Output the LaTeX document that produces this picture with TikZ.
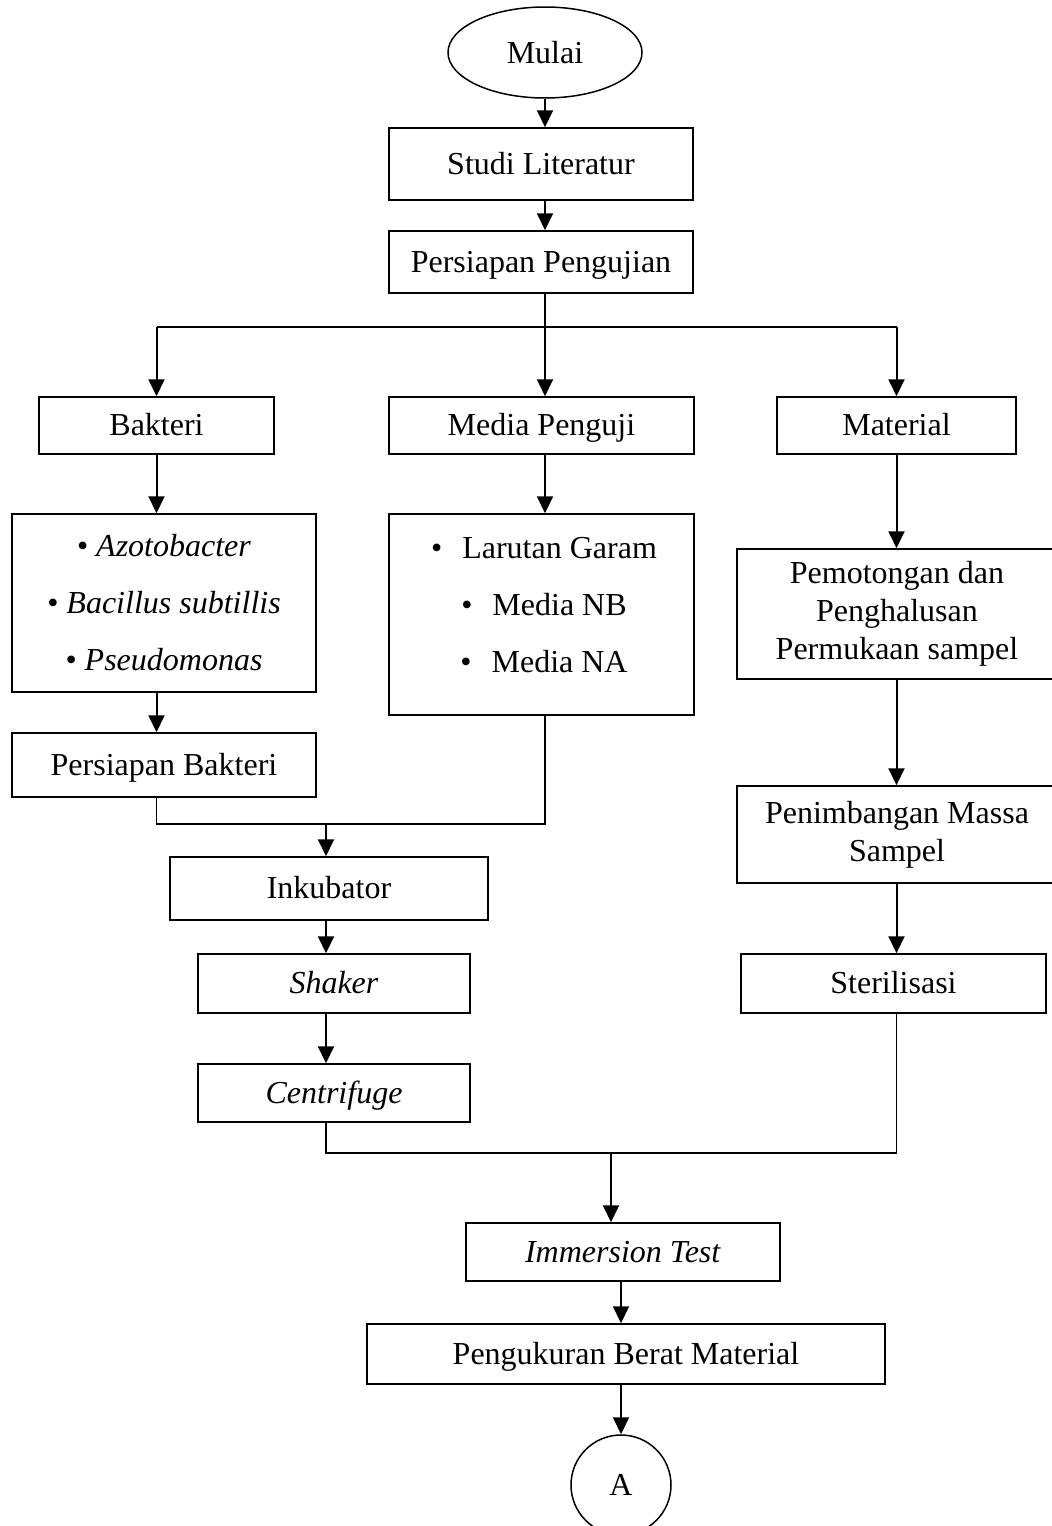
\documentclass[tikz,border=0pt]{standalone}
\usepackage{fontspec}
\setmainfont{Liberation Serif}
\usetikzlibrary{arrows.meta,shapes.geometric}
\begin{document}
\begin{tikzpicture}[x=1pt,y=-1pt,
  box/.style={draw, line width=1.5pt, rectangle, inner sep=0pt, align=center,
    font=\fontsize{32}{38}\selectfont},
  onebox/.style={box, text height=26pt, text depth=6pt},
  listbox/.style={box, font=\fontsize{32}{57}\selectfont},
  ln/.style={line width=1.6pt},
  arr/.style={line width=2pt, -{Triangle[length=17pt,width=16pt]}}]
\useasboundingbox (0,0) rectangle (1052,1526);
\clip (0,0) rectangle (1052,1526);

\node[draw, ellipse, line width=1.5pt, inner sep=0pt, minimum width=194pt, minimum height=91pt,
  font=\fontsize{32}{38}\selectfont] (mulai) at (545,52.5) {Mulai};
\node[onebox, minimum width=304pt, minimum height=72pt] (studi) at (541,164) {Studi Literatur};
\node[onebox, minimum width=304pt, minimum height=62pt] (persiapan) at (541,262) {Persiapan Pengujian};

\node[onebox, minimum width=235pt, minimum height=57pt] (bakteri) at (156.5,425.5) {Bakteri};
\node[onebox, minimum width=305pt, minimum height=57pt] (media) at (541.5,425.5) {Media Penguji};
\node[onebox, minimum width=239pt, minimum height=57pt] (material) at (896.5,425.5) {Material};

\node[listbox, minimum width=304pt, minimum height=178pt] (blist) at (164,603)
  {\textbullet\ \textit{Azotobacter}\\ \textbullet\ \textit{Bacillus subtillis}\\ \textbullet\ \textit{Pseudomonas}};
\node[box, minimum width=305pt, minimum height=201pt] (mlist) at (541.5,614.5) {};
\node[align=center, inner sep=0pt, font=\fontsize{32}{57}\selectfont] (mlisttext) at (544,605)
  {\textbullet\hspace{20pt}Larutan Garam\\ \textbullet\hspace{20pt}Media NB\\ \textbullet\hspace{20pt}Media NA};
\node[onebox, minimum width=304pt, minimum height=64pt] (pbakteri) at (164,765) {Persiapan Bakteri};

\node[box, minimum width=320pt, minimum height=130pt] (pemotongan) at (897,614)
  {Pemotongan dan\\ Penghalusan\\ Permukaan sampel};
\node[box, minimum width=320pt, minimum height=97pt] (penimbangan) at (897,834.5)
  {Penimbangan Massa\\ Sampel};
\node[onebox, minimum width=305pt, minimum height=59pt] (steril) at (893.5,983.5) {Sterilisasi};

\node[onebox, minimum width=318pt, minimum height=63pt] (inkubator) at (329,888.5) {Inkubator};
\node[onebox, minimum width=272pt, minimum height=59pt] (shaker) at (334,983.5) {\textit{Shaker}};
\node[onebox, minimum width=272pt, minimum height=58pt] (centrifuge) at (334,1093) {\textit{Centrifuge}};

\node[onebox, minimum width=314pt, minimum height=58pt] (immersion) at (623,1252) {\textit{Immersion Test}};
\node[onebox, minimum width=518pt, minimum height=60pt] (pengukuran) at (626,1354) {Pengukuran Berat Material};
\node[draw, circle, line width=1.5pt, inner sep=0pt, minimum size=100pt,
  font=\fontsize{32}{38}\selectfont] (A) at (621,1485) {A};

\coordinate (br) at (545,327);
\coordinate (j1) at (326,824);
\coordinate (j2) at (611,1153);
\coordinate (cx) at (621,0);

\draw[arr] (mulai.south) -- (studi.north -| mulai.south);
\draw[arr] (studi.south -| mulai) -- (persiapan.north -| mulai);
\draw[ln] (persiapan.south -| br) -- (br);
\draw[ln] (br -| bakteri) -- (br -| material);
\draw[arr] (br -| bakteri) -- (bakteri.north);
\draw[arr] (br) -- (media.north -| br);
\draw[arr] (br -| material) -- (material.north);

\draw[arr] (bakteri.south) -- (blist.north -| bakteri.south);
\draw[arr] (media.south -| br) -- (mlist.north -| br);
\draw[arr] (material.south) -- (pemotongan.north -| material.south);
\draw[arr] (blist.south -| bakteri) -- (pbakteri.north -| bakteri);

\draw[ln] (pbakteri.south -| bakteri) -- (bakteri |- j1) -- (br |- j1) -- (mlist.south -| br);
\draw[arr] (j1) -- (inkubator.north -| j1);
\draw[arr] (inkubator.south -| j1) -- (shaker.north -| j1);
\draw[arr] (shaker.south -| j1) -- (centrifuge.north -| j1);

\draw[arr] (pemotongan.south -| material) -- (penimbangan.north -| material);
\draw[arr] (penimbangan.south -| material) -- (steril.north -| material);

\draw[ln] (centrifuge.south -| j1) -- (j1 |- j2) -- (material |- j2) -- (steril.south -| material);
\draw[arr] (j2) -- (immersion.north -| j2);
\draw[arr] (immersion.south -| cx) -- (pengukuran.north -| cx);
\draw[arr] (pengukuran.south -| cx) -- (A.north);
\end{tikzpicture}
\end{document}
